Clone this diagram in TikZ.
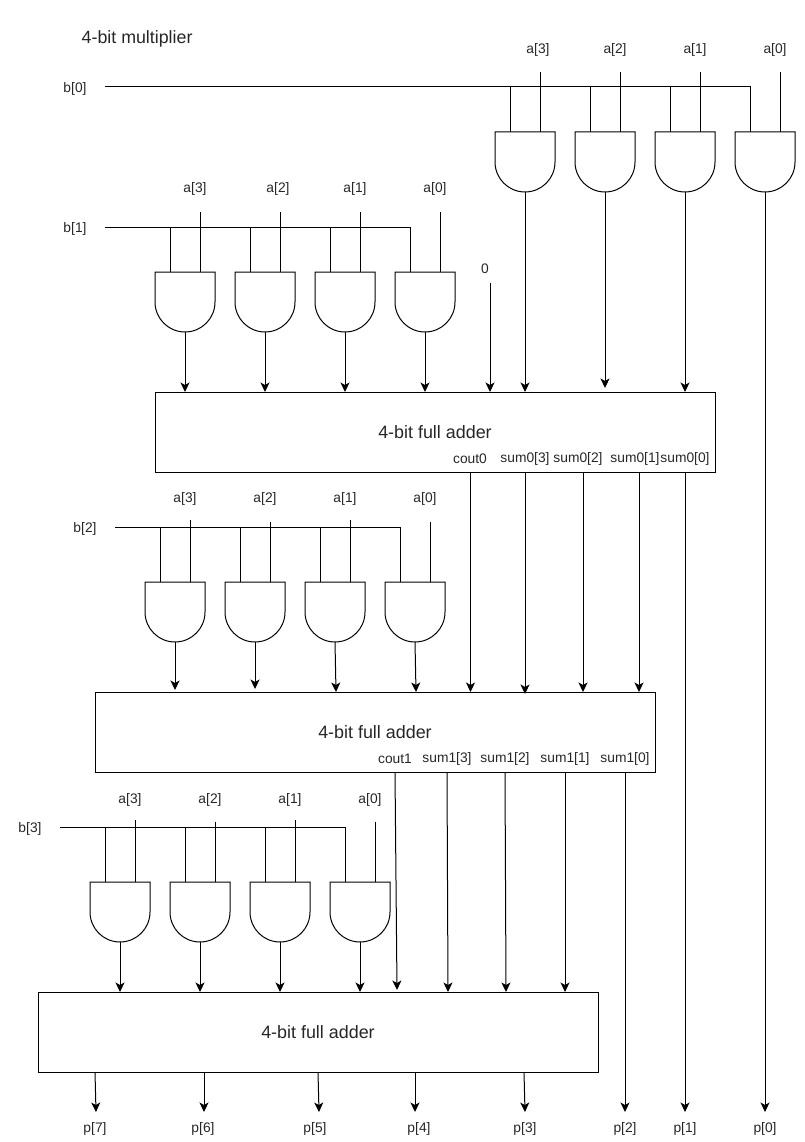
\documentclass[tikz,border=0pt]{standalone}
\usepackage{fontspec}
\setmainfont{Liberation Sans}
\usetikzlibrary{calc,arrows.meta}
\tikzset{
  wire/.style={line width=1pt,black},
  arrowwire/.style={wire,-{Stealth[length=9.5pt,width=9pt,inset=2.5pt]}},
  gatebox/.style={rectangle,minimum width=60pt,minimum height=60pt,inner sep=0pt,outer sep=0pt},
  adder/.style={rectangle,draw,line width=1pt,minimum width=560pt,minimum height=80pt,inner sep=0pt,outer sep=0pt,font=\fontsize{17.9}{20}\selectfont,text=black!85},
  lbl/.style={inner sep=0pt,font=\fontsize{13.8}{15}\selectfont,text=black!85},
  title/.style={inner sep=0pt,font=\fontsize{17.8}{20}\selectfont,text=black!85}
}
% name, left x, top y
\newcommand\andgate[3]{%
  \node[gatebox,anchor=north west] (#1) at (#2,#3) {};
  \draw[wire] (#1.north west) -- (#1.north east) -- ++(0,30)
     arc[start angle=0,end angle=-180,radius=30pt] -- cycle;
  \coordinate (#1c) at ($(#1.north west)+(15,0)$);
  \coordinate (#1a) at ($(#1.north west)+(45,0)$);
}
\begin{document}
\begin{tikzpicture}[x=1pt,y=-1pt]
\useasboundingbox (0,0) rectangle (805,1142);

\node[title,anchor=west] (ttl) at (81.5,38.5) {4-bit multiplier};

% adders
\node[adder,anchor=north west] (add0) at (155,392) {4-bit full adder};
\node[adder,anchor=north west] (add1) at (95,692) {4-bit full adder};
\node[adder,anchor=north west] (add2) at (38,992) {4-bit full adder};

% gates
\foreach \i/\x in {3/495,2/575,1/655,0/735} \andgate{A\i}{\x}{132};
\foreach \i/\x in {3/155,2/235,1/315,0/395} \andgate{B\i}{\x}{272};
\foreach \i/\x in {3/145,2/225,1/305,0/385} \andgate{C\i}{\x}{582};
\foreach \i/\x in {3/90,2/170,1/250,0/330} \andgate{D\i}{\x}{882};

% b labels and buses
\node[lbl] (b0) at (75,88.5) {b[0]};
\node[lbl] (b1) at (75,228.5) {b[1]};
\node[lbl] (b2) at (85,528.5) {b[2]};
\node[lbl] (b3) at (30,828.5) {b[3]};
\coordinate (b0s) at (105,87);
\coordinate (b1s) at (105,227);
\coordinate (b2s) at (115,527);
\coordinate (b3s) at (60,827);
\draw[wire] (b0s) -| (A0c);
\draw[wire] (b1s) -| (B0c);
\draw[wire] (b2s) -| (C0c);
\draw[wire] (b3s) -| (D0c);
\draw[wire] (A3c) -- (A3c |- b0s);
\draw[wire] (A2c) -- (A2c |- b0s);
\draw[wire] (A1c) -- (A1c |- b0s);
\draw[wire] (B3c) -- (B3c |- b1s);
\draw[wire] (B2c) -- (B2c |- b1s);
\draw[wire] (B1c) -- (B1c |- b1s);
\draw[wire] (C3c) -- (C3c |- b2s);
\draw[wire] (C2c) -- (C2c |- b2s);
\draw[wire] (C1c) -- (C1c |- b2s);
\draw[wire] (D3c) -- (D3c |- b3s);
\draw[wire] (D2c) -- (D2c |- b3s);
\draw[wire] (D1c) -- (D1c |- b3s);

% a labels and inputs
\foreach \i/\x in {3/538,2/615,1/695,0/775} \node[lbl] (Al\i) at (\x,49.5) {a[\i]};
\foreach \i/\x in {3/195,2/278,1/355,0/435} \node[lbl] (Bl\i) at (\x,188.5) {a[\i]};
\foreach \i/\x in {3/185,2/265,1/345,0/425} \node[lbl] (Cl\i) at (\x,498.5) {a[\i]};
\foreach \i/\x in {3/130,2/210,1/290,0/370} \node[lbl] (Dl\i) at (\x,799.5) {a[\i]};
\foreach \i in {0,1,2,3} {
  \draw[wire] (A\i a) -- ++(0,-60);
  \draw[wire] (B\i a) -- ++(0,-60);
}
\foreach \i/\h in {3/62,2/60,1/62,0/60} {
  \draw[wire] (C\i a) -- ++(0,-\h);
  \draw[wire] (D\i a) -- ++(0,-\h);
}

% gate outputs
\draw[arrowwire] (A3.south) -- (A3.south |- add0.north);
\draw[arrowwire] (A2.south) -- ($(A2.south |- add0.north)+(0,-4)$);
\draw[arrowwire] (A1.south) -- (A1.south |- add0.north);
\foreach \i in {0,1,2,3} {
  \draw[arrowwire] (B\i.south) -- (B\i.south |- add0.north);
  \draw[arrowwire] (D\i.south) -- (D\i.south |- add2.north);
}
\draw[arrowwire] (C3.south) -- ($(C3.south |- add1.north)+(0,-2)$);
\draw[arrowwire] (C2.south) -- ($(C2.south |- add1.north)+(0,-3)$);
\draw[arrowwire] (C1.south) -- ($(C1.south |- add1.north)+(1,0)$);
\draw[arrowwire] (C0.south) -- ($(C0.south |- add1.north)+(1,0)$);

% constant zero
\node[lbl] (zero) at (485,268.5) {0};
\coordinate (zs) at (490,283);
\draw[arrowwire] (zs) -- (zs |- add0.north);

% adder 0 outputs
\foreach \t/\x/\n in {cout0/470/oc,sum0[3]/525/o3,sum0[2]/578/o2,sum0[1]/635/o1,sum0[0]/685/o0}
  \node[lbl] (l\n) at (\x,458.5) {\t};
\foreach \n/\x in {c/470.5,3/525,2/583,1/639,0/685}
  \coordinate (s\n) at (\x,472);
\draw[arrowwire] (sc) -- (sc |- add1.north);
\draw[arrowwire] (s3) -- ($(s3 |- add1.north)+(0,2)$);
\draw[arrowwire] (s2) -- (s2 |- add1.north);
\draw[arrowwire] (s1) -- (s1 |- add1.north);

% adder 1 outputs
\foreach \t/\x/\n in {cout1/395/oc,sum1[3]/447/o3,sum1[2]/505/o2,sum1[1]/565/o1,sum1[0]/625/o0}
  \node[lbl] (m\n) at (\x,758.5) {\t};
\foreach \n/\x in {c/395,3/447,2/505,1/565,0/625}
  \coordinate (t\n) at (\x,772);
\draw[arrowwire] (tc) -- ($(tc |- add2.north)+(2,-2)$);
\draw[arrowwire] (t3) -- ($(t3 |- add2.north)+(1,0)$);
\draw[arrowwire] (t2) -- ($(t2 |- add2.north)+(1,0)$);
\draw[arrowwire] (t1) -- (t1 |- add2.north);

% product labels
\foreach \i/\x in {7/95,6/203,5/315,4/419,3/525,2/625,1/685,0/765}
  \node[lbl] (p\i) at (\x,1128.5) {p[\i]};
\foreach \n/\x in {7/95,6/204,5/318,4/415,3/524}
  \coordinate (u\n) at (\x,1072);
\draw[arrowwire] (u7) -- ($(u7)+(1,40)$);
\draw[arrowwire] (u6) -- ++(0,40);
\draw[arrowwire] (u5) -- ($(u5)+(1,40)$);
\draw[arrowwire] (u4) -- ++(0,40);
\draw[arrowwire] (u3) -- ($(u3)+(1,40)$);
\draw[arrowwire] (t0) -- ($(t0 |- u7)+(0,40)$);
\draw[arrowwire] (s0) -- ($(s0 |- u7)+(0,40)$);
\draw[arrowwire] (A0.south) -- ($(A0.south |- u7)+(0,40)$);
\end{tikzpicture}
\end{document}
